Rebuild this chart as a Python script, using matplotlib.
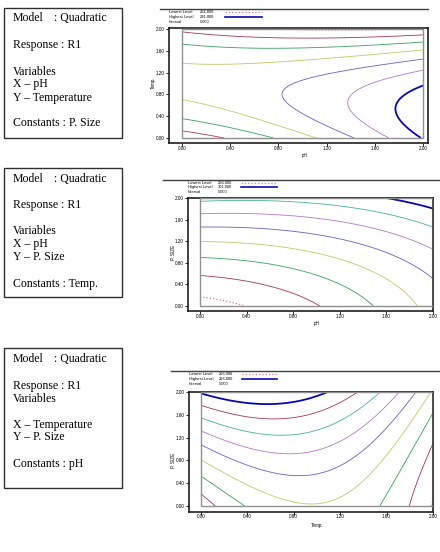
import numpy as np
import matplotlib
matplotlib.use('Agg')
import matplotlib.pyplot as plt
from matplotlib.patches import Rectangle

# points (x, y, level) for each plot

# plot 1 : x = pH, y = Temp., constant P. Size
ph_temp_x = [0, 0, 0, 0, 0, 0,
             0.34, 0.77, 1.12, 1.44, 1.71, 1.975,
             2, 2, 2, 2, 2, 2,
             0.74, 1.78,
             0.8, 0.8, 0.8, 0.85, 1.38, 1.77]
ph_temp_y = [0.13, 0.35, 0.70, 1.37, 1.72, 1.94,
             0, 0, 0, 0, 0, 0,
             1.89, 1.76, 1.61, 1.44, 1.25, 0.97,
             2, 2,
             1.86, 1.63, 1.41, 0.79, 0.70, 0.57]
ph_temp_level = [266, 271, 276, 276, 271, 266,
                 266, 271, 276, 281, 286, 291,
                 266, 271, 276, 281, 286, 291,
                 261, 261,
                 266, 271, 276, 281, 286, 291]
ph_temp_levels = [261, 266, 271, 276, 281, 286, 291]

# plot 2 : x = pH, y = P. Size, constant Temp.
ph_size_x = [0, 0, 0, 0, 0, 0, 0,
             0.40, 1.03, 1.49, 1.86,
             2, 2, 2, 2,
             1.64,
             1, 1, 1, 1, 1]
ph_size_y = [1.95, 1.72, 1.455, 1.195, 0.885, 0.55, 0.17,
             0, 0, 0, 0,
             0.48, 1.03, 1.49, 1.80,
             2,
             1.86, 1.61, 1.32, 1.01, 0.61]
ph_size_level = [296, 291, 286, 281, 276, 271, 266,
                 266, 271, 276, 281,
                 286, 291, 296, 301,
                 301,
                 296, 291, 286, 281, 276]
ph_size_levels = [266, 271, 276, 281, 286, 291, 296, 301]

# plot 3 : x = Temp., y = P. Size, constant pH
temp_size_x = [0, 0, 0, 0, 0, 0, 0, 0,
               0.13, 0.38, 0.97, 1.54, 1.80, 2.0,
               1.11, 1.37, 1.55, 1.70, 1.86, 1.98,
               2, 2,
               0.54, 0.68, 0.71, 0.80, 0.86,
               1.37, 1.37, 1.37, 1.37]
temp_size_y = [1.98, 1.78, 1.55, 1.32, 1.08, 0.77, 0.54, 0.22,
               0, 0, 0.03, 0, 0, 0.15,
               2, 2, 2, 2, 2, 2,
               1.63, 1.07,
               1.78, 1.52, 1.24, 0.90, 0.52,
               0.40, 0.95, 1.39, 1.77]
temp_size_level = [296, 291, 286, 281, 276, 271, 266, 261,
                   261, 266, 271, 266, 261, 256,
                   296, 291, 286, 281, 276, 271,
                   266, 261,
                   296, 291, 286, 281, 276,
                   271, 276, 281, 286]
temp_size_levels = [256, 261, 266, 271, 276, 281, 286, 291, 296]

tick_values = [0.0, 0.4, 0.8, 1.2, 1.6, 2.0]
tick_labels = ['0.00', '0.40', '0.80', '1.20', '1.60', '2.00']

W, H = 440, 552

def fx(x):
    return x / W

def fy(y):
    return 1 - y / H

def fit_quadratic(x, y, z):
    x = np.array(x, float)
    y = np.array(y, float)
    A = np.column_stack([np.ones_like(x), x, y, x * x, y * y, x * y])
    return np.linalg.lstsq(A, np.array(z, float), rcond=None)[0]

def eval_quadratic(c, X, Y):
    return c[0] + c[1] * X + c[2] * Y + c[3] * X * X + c[4] * Y * Y + c[5] * X * Y

c_low = '#e07888'
c_maroon = '#a03858'
c_green = '#38a060'
c_yellow = '#c0c868'
c_slate = '#6464c0'
c_purple = '#b478c8'
c_teal = '#48b0a0'
c_blue = '#0808b0'

fig = plt.figure(figsize=(4.4, 5.52), dpi=100)

# text boxes on the left
boxes = [
    (8, 138, [(18, 'Model', ': Quadratic'), (45, 'Response : R1', None), (72, 'Variables', None),
              (84.5, 'X \u2013 pH', None), (97.5, 'Y \u2013 Temperature', None), (123.5, 'Constants : P. Size', None)]),
    (168, 297, [(179, 'Model', ': Quadratic'), (205.5, 'Response : R1', None), (231.5, 'Variables', None),
                (244.5, 'X \u2013 pH', None), (257.5, 'Y \u2013 P. Size', None), (284, 'Constants : Temp.', None)]),
    (348, 488, [(359.5, 'Model', ': Quadratic'), (385.5, 'Response : R1', None), (398.5, 'Variables', None),
                (425, 'X \u2013 Temperature', None), (437.5, 'Y \u2013 P. Size', None), (464, 'Constants : pH', None)]),
]
for top, bottom, lines in boxes:
    fig.add_artist(Rectangle((fx(4), fy(bottom)), fx(122) - fx(4), fy(top) - fy(bottom),
                             transform=fig.transFigure, fill=False, lw=1.0, ec='#303030'))
    for y, a, b in lines:
        fig.text(fx(12.5), fy(y), a, family='Liberation Serif', fontsize=8.5, va='center', ha='left')
        if b:
            fig.text(fx(54), fy(y), b, family='Liberation Serif', fontsize=8.5, va='center', ha='left')

def draw_plot(rect, xlim, ylim, xs, ys, zs, levels, colors, xlabel, ylabel,
              rule, legend, ylabel_pos, xlabel_y, ticklabel_y):
    left, top, right, bottom = rect
    ax = fig.add_axes([fx(left), fy(bottom), fx(right) - fx(left), fy(top) - fy(bottom)])
    coef = fit_quadratic(xs, ys, zs)
    g = np.linspace(0, 2, 241)
    X, Y = np.meshgrid(g, g)
    Z = eval_quadratic(coef, X, Y)
    styles = [':'] + ['-'] * (len(levels) - 1)
    widths = [0.9] + [0.6] * (len(levels) - 2) + [1.3]
    ax.contour(X, Y, Z, levels=levels, colors=colors, linestyles=styles, linewidths=widths)
    # grey frame round the design space
    ax.add_patch(Rectangle((0, 0), 2, 2, fill=False, ec='#909090', lw=1.0, zorder=3))
    ax.set_xlim(xlim)
    ax.set_ylim(ylim)
    for s in ax.spines.values():
        s.set_linewidth(1.2)
        s.set_color('#202020')
    ax.set_xticks(tick_values)
    ax.set_yticks(tick_values)
    ax.set_xticklabels([])
    ax.set_yticklabels(tick_labels, family='Liberation Sans', fontsize=3.3)
    ax.tick_params(length=2, width=0.6, pad=1)
    # x tick labels on their own pixel row
    for t, lab in zip(tick_values, tick_labels):
        x_disp = ax.transData.transform((t, 0))[0]
        fig.text(x_disp / fig.bbox.width, fy(ticklabel_y), lab, ha='center', va='center',
                 family='Liberation Sans', fontsize=3.3)
    fig.text(fx((left + right) / 2 + 6), fy(xlabel_y), xlabel, family='Liberation Sans',
             fontsize=3.3, ha='center', va='center')
    fig.text(fx(ylabel_pos[0]), fy(ylabel_pos[1]), ylabel, family='Liberation Sans',
             fontsize=3.3, ha='center', va='center', rotation=90)
    # rule and legend above the plot
    rx0, rx1, ry = rule
    fig.add_artist(plt.Line2D([fx(rx0), fx(rx1)], [fy(ry), fy(ry)], color='#404040', lw=1.0))
    lx, vx, sx0, sx1, rows, vals, low_col, high_col = legend
    names = ['Lowest Level', 'Highest Level', 'Interval']
    for name, val, y in zip(names, vals, rows):
        fig.text(fx(lx), fy(y), name, family='Liberation Sans', fontsize=2.9, va='center')
        fig.text(fx(vx), fy(y), val, family='Liberation Sans', fontsize=2.9, va='center')
    fig.add_artist(plt.Line2D([fx(sx0), fx(sx1)], [fy(rows[0]), fy(rows[0])], color=low_col, lw=0.9, ls=':'))
    fig.add_artist(plt.Line2D([fx(sx0), fx(sx1)], [fy(rows[1]), fy(rows[1])], color=high_col, lw=1.2))
    return ax

draw_plot((169, 28, 428, 143), (-0.108, 2.041), (-0.092, 2.018),
          ph_temp_x, ph_temp_y, ph_temp_level, ph_temp_levels,
          [c_low, c_maroon, c_green, c_yellow, c_slate, c_purple, c_blue],
          'pH', 'Temp.', (160, 428, 9),
          (169, 200, 225, 262, [12.3, 17, 22], ['261.000', '291.000', '5.000'], c_low, c_blue),
          (153, 83), 155.5, 149)

draw_plot((188, 198, 433, 311), (-0.103, 2.0), (-0.093, 2.0),
          ph_size_x, ph_size_y, ph_size_level, ph_size_levels,
          [c_low, c_maroon, c_green, c_yellow, c_slate, c_purple, c_teal, c_blue],
          'pH', 'P. SIZE', (163, 440, 180),
          (188, 218, 241, 277, [182.7, 187.3, 192.3], ['266.000', '301.000', '5.000'], c_low, c_blue),
          (173, 252), 324, 316.7)

draw_plot((189, 392, 433, 512), (-0.103, 2.0), (-0.105, 2.0),
          temp_size_x, temp_size_y, temp_size_level, temp_size_levels,
          [c_low, c_maroon, c_green, c_yellow, c_slate, c_purple, c_teal, c_maroon, c_blue],
          'Temp.', 'P. SIZE', (171, 440, 371),
          (189, 219, 242, 277, [374.3, 379, 384], ['256.000', '296.000', '5.000'], c_low, c_blue),
          (173, 460), 525, 516.7)

fig.savefig('out.png', dpi=100)
